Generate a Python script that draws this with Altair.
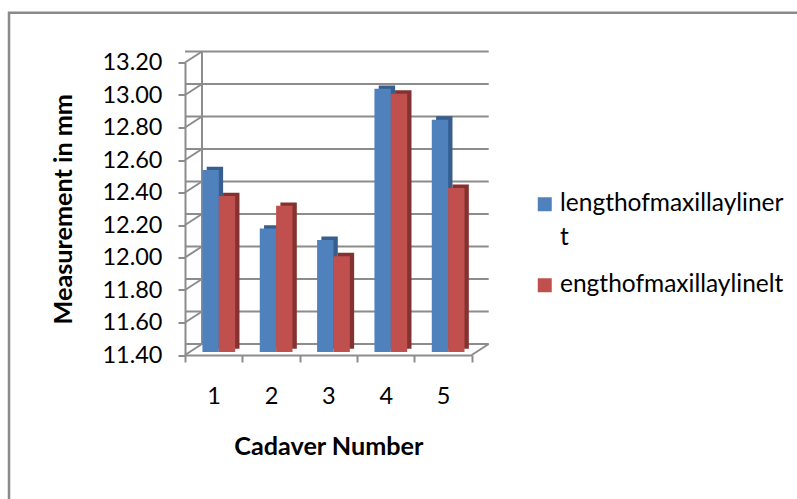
import altair as alt
import pandas as pd

# Mean length of the maxillary line per cadaver, right and left side (mm)
cadavers = ["1", "2", "3", "4", "5"]
right_len = [12.52, 12.16, 12.09, 13.02, 12.83]
left_len = [12.36, 12.30, 11.99, 12.99, 12.41]
series = ["lengthofmaxillaylinert", "engthofmaxillaylinelt"]
y_ticks = [11.40, 11.60, 11.80, 12.00, 12.20, 12.40, 12.60, 12.80, 13.00, 13.20]

FONT = "Lato"
GRID = "#8c8c8c"
FRONT = ["#4F81BD", "#C0504D"]
DARK = ["#375E8E", "#843231"]

W, H = 286.7, 292.5          # plot area (front plane)
DX, DY = 17, -11             # depth of the back wall
BDX, BDY = 4.3, -3.3         # depth of each column
BAR_SHIFT = [-3.05, 13.3]    # horizontal placement of each series within a band
BAR_LIFT = -3                # columns stand slightly behind the front edge

bars_df = pd.DataFrame({
    "cadaver": cadavers * 2,
    "series": [series[0]] * len(cadavers) + [series[1]] * len(cadavers),
    "value": right_len + left_len,
})
ticks_df = pd.DataFrame({"value": y_ticks})
wall_df = pd.DataFrame({"value": [y_ticks[-1]], "value2": [y_ticks[0]]})
floor_df = pd.DataFrame({"value": [y_ticks[0]]})
frame_df = pd.DataFrame({"k": [0]})

y_enc = alt.Y(
    "value:Q",
    scale=alt.Scale(domain=[y_ticks[0], y_ticks[-1]], zero=False, nice=False),
    axis=alt.Axis(
        values=y_ticks, format=".2f", title="Measurement in mm", grid=False,
        tickSize=7, tickColor=GRID, tickWidth=2, domainColor=GRID, domainWidth=2,
        labelPadding=16, titlePadding=25,
    ),
)
x_enc = alt.X(
    "cadaver:N", sort=cadavers,
    scale=alt.Scale(paddingInner=0, paddingOuter=0),
    axis=alt.Axis(
        tickBand="extent", labelAngle=0, title="Cadaver Number",
        tickSize=7, tickColor=GRID, tickWidth=2, domainColor=GRID, domainWidth=2,
        labelPadding=22, titlePadding=27,
    ),
)
color_enc = alt.Color(
    "series:N", sort=series,
    scale=alt.Scale(domain=series, range=FRONT),
    legend=alt.Legend(
        title=None, orient="none", legendX=347.5, legendY=129.5,
        symbolType="square", symbolSize=196, symbolStrokeWidth=0,
        labelOffset=3, labelLimit=400, padding=0, rowPadding=22,
        labelExpr="datum.label == 'lengthofmaxillaylinert' ? ['lengthofmaxillayliner', 't'] : datum.label",
    ),
)

# chart frame
frame = alt.Chart(frame_df).mark_rect(fill="transparent", stroke="#8a8a8a", strokeWidth=2.5).encode(
    x=alt.value(-176), x2=alt.value(700), y=alt.value(-49.7), y2=alt.value(600)
)

# back wall gridlines
back_grid = alt.Chart(ticks_df).mark_rule(
    color=GRID, strokeWidth=2, xOffset=DX, x2Offset=DX, yOffset=DY, y2Offset=DY
).encode(y=y_enc)

# side wall: diagonal from each front tick to the back wall
side_grid = alt.Chart(ticks_df).mark_rule(
    color=GRID, strokeWidth=2, x2Offset=DX, y2Offset=DY
).encode(x=alt.value(0), x2=alt.value(0), y=y_enc, y2=alt.Y2("value"))

# back-left edge of the wall
back_edge = alt.Chart(wall_df).mark_rule(
    color=GRID, strokeWidth=2, xOffset=DX, x2Offset=DX, yOffset=DY, y2Offset=DY
).encode(x=alt.value(0), y=y_enc, y2=alt.Y2("value2"))

# right edge of the floor
floor_edge = alt.Chart(floor_df).mark_rule(
    color=GRID, strokeWidth=2, x2Offset=DX, y2Offset=DY
).encode(x=alt.value("width"), x2=alt.value("width"), y=y_enc, y2=alt.Y2("value"))

dark_layers = []
front_layers = []
for i, s in enumerate(series):
    base = alt.Chart(bars_df).transform_filter(alt.datum.series == s)
    dark_layers.append(
        base.mark_bar(
            width={"band": 0.286},
            xOffset=BAR_SHIFT[i] + BDX, x2Offset=BAR_SHIFT[i] + BDX,
            yOffset=BAR_LIFT + BDY, y2Offset=BAR_LIFT + BDY,
        ).encode(x=x_enc, y=y_enc, y2=alt.datum(y_ticks[0]), color=alt.value(DARK[i]))
    )
    front_layers.append(
        base.mark_bar(
            width={"band": 0.286},
            xOffset=BAR_SHIFT[i], x2Offset=BAR_SHIFT[i],
            yOffset=BAR_LIFT, y2Offset=BAR_LIFT,
        ).encode(x=x_enc, y=y_enc, y2=alt.datum(y_ticks[0]), color=color_enc)
    )

chart = alt.layer(
    frame, back_grid, side_grid, back_edge, floor_edge, *dark_layers, *front_layers
).properties(
    width=W, height=H,
    padding={"left": 185, "top": 62.5, "right": 797 - 185 - W, "bottom": 499 - 62.5 - H},
    autosize=alt.AutoSizeParams(type="none"),
).configure(
    style={"guide-label": {"lineHeight": 34}}
).configure_view(
    stroke=None
).configure_axis(
    labelFont=FONT, titleFont=FONT, labelFontSize=23.5, titleFontSize=25.2,
    labelColor="black", titleColor="black", titleFontWeight="bold",
).configure_legend(
    labelFont=FONT, labelFontSize=24.5, labelColor="black",
)

chart.save("out.html", embed_options={"renderer": "svg", "actions": False})
